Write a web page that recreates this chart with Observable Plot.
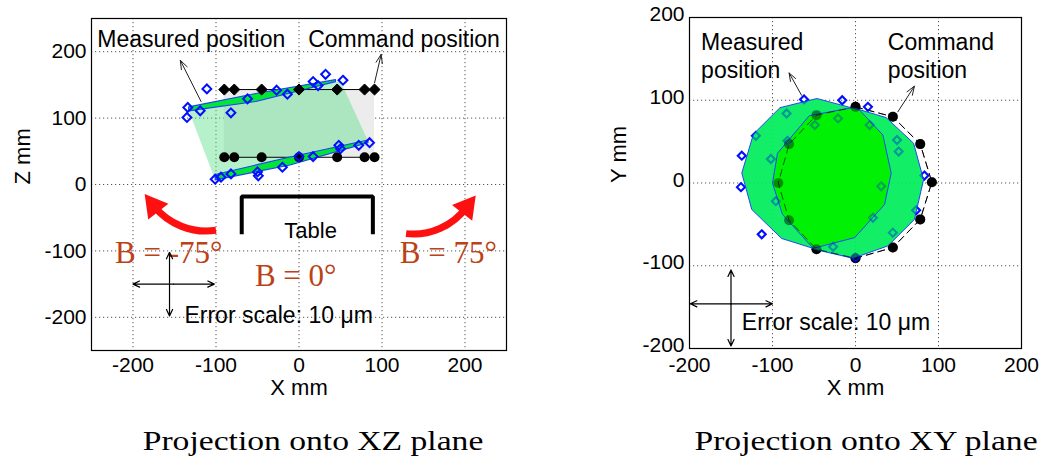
<!DOCTYPE html>
<html><head><meta charset="utf-8">
<script src="https://cdn.jsdelivr.net/npm/d3@7"></script>
<script src="https://cdn.jsdelivr.net/npm/@observablehq/plot@0.6"></script>
<style>
body{margin:0;background:#fff;}
#wrap{position:relative;width:1052px;height:466px;background:#fff;overflow:hidden;}
#left{position:absolute;left:0;top:0;}
#right{position:absolute;left:600px;top:0;}
.cap{position:absolute;top:425px;font-family:"Liberation Serif","Times New Roman",serif;font-size:28px;line-height:32px;color:#000;white-space:nowrap;transform:translateX(-50%) scaleX(1.2);}
</style></head><body>
<div id="wrap"><div id="left"></div><div id="right"></div>
<div class="cap" id="capL" style="left:313px"></div><div class="cap" id="capR" style="left:866px"></div></div>
<script>
// ---------------- shared ----------------
const axisTicks = [-200, -100, 0, 100, 200];
const captions = ["Projection onto XZ plane", "Projection onto XY plane"];

// ---------------- XZ projection (left) ----------------
const xzCmdX    = [-90, -78, -45, 0, 46, 79, 91];
const xzCmdTopZ = [143, 143, 143, 143, 143, 143, 143];
const xzCmdBotZ = [41, 41, 41, 41, 41, 41, 41];
const xzMeasTopX = [-134, -135, -119, -111, -82, -62, -27, -14, 17, 23, 32, 53];
const xzMeasTopZ = [116, 101, 111, 144, 108, 129, 142, 136, 155, 149, 166, 157];
const xzMeasBotX = [-101, -94, -82, -50, -49, -20, 0, 17, 48, 50, 72, 85];
const xzMeasBotZ = [8, 11, 16, 19, 13, 26, 42, 42, 59, 54, 59, 63];
const xzBandTop = [[-133,117],[-52,137],[44,158],[44,155],[-52,125],[-133,111]];
const xzBandBot = [[-101,15],[-12,41],[83,67],[83,63],[-12,29],[-101,7]];
const xzSwept   = [[-133,112],[50,156],[83,66],[-102,10]];
const xzLabels  = [{text:"Measured position", x:-243, z:218}, {text:"Command position", x:11, z:218}];
const xzPointers = [{x1:-118, z1:125, x2:-143, z2:187}, {x1:91, z1:153, x2:99, z2:196}];
const xzTable = [[-69,-75],[-69,-18],[89,-18],[89,-75]];
const xzTableLabel = [{text:"Table", x:14, z:-70}];
const xzAngleLabels = [{text:"B = -75°", x:-157, z:-103}, {text:"B = 0°", x:-4, z:-138}, {text:"B = 75°", x:180, z:-103}];
const xzRotLeft  = [{x1:-100, z1:-69, x2:-175, z2:-32}];
const xzRotRight = [{x1:129, z1:-74, x2:202, z2:-34}];
const xzScaleArrows = [{x1:-151, z1:-150, x2:-200, z2:-150}, {x1:-151, z1:-150, x2:-102, z2:-150},
                       {x1:-156, z1:-150, x2:-156, z2:-102}, {x1:-156, z1:-150, x2:-156, z2:-198}];
const xzScaleText = [{text:"Error scale: 10 μm", x:-138, z:-198}];

// ---------------- XY projection (right) ----------------
const xyCmdX = [0, 45, 78, 92, 78, 45, 0, -47, -80, -93, -80, -47];
const xyCmdY = [92, 80, 47, 1, -44, -78, -91, -80, -45, 0, 47, 82];
const xyMeasX = [-62, -16, 15, -137, -138, -113, 83, 73, 0, -83, -120, -102, -82, -49, -21, 17, 50, 52, 31, 21, 45, -27, -96];
const xyMeasY = [101, 100, 92, 33, -5, -62, 9, -33, -90, 84, 57, 29, 51, 70, 78, 70, 52, 38, -4, -42, -60, -77, -22];
const xyShapeA = [[-47,102],[-91,91],[-123,59],[-137,12],[-125,-32],[-89,-67],[-51,-79],[-1,-66],[35,-26],[43,12],[33,58],[5,88]];
const xyShapeB = [[-3,91],[37,79],[70,48],[82,4],[71,-44],[39,-76],[-3,-91],[-50,-80],[-88,-38],[-100,0],[-94,36],[-56,81]];
const xyLabels = [{text:"Measured", x:-186, y:170}, {text:"position", x:-186, y:136},
                  {text:"Command", x:39, y:170}, {text:"position", x:39, y:136}];
const xyPointers = [{x1:-65, y1:106, x2:-80, y2:133}, {x1:51, y1:86, x2:71, y2:117}];
const xyScaleArrows = [{x1:-150, y1:-146, x2:-199, y2:-146}, {x1:-150, y1:-146, x2:-100, y2:-146},
                       {x1:-150, y1:-146, x2:-150, y2:-105}, {x1:-150, y1:-146, x2:-150, y2:-197}];
const xyScaleText = [{text:"Error scale: 10 μm", x:-137, y:-169}];

// ---------------- rendering ----------------
const sans = "'Liberation Sans', Arial, sans-serif";
const serif = "'Liberation Serif', 'Times New Roman', serif";
const fmt = d => String(d);
const red = "#bc4216";
const arrowRed = "#ff1010";
const gridOpts = {stroke:"#555", strokeOpacity:1, strokeWidth:1, strokeDasharray:"1.2,2.8"};

const xzCmdTop = xzCmdX.map((x, i) => ({x, z: xzCmdTopZ[i]}));
const xzCmdBot = xzCmdX.map((x, i) => ({x, z: xzCmdBotZ[i]}));
const xzMeas = xzMeasTopX.map((x, i) => ({x, z: xzMeasTopZ[i]}))
  .concat(xzMeasBotX.map((x, i) => ({x, z: xzMeasBotZ[i]})));
const xzRect = [{x1: d3.min(xzCmdX), x2: d3.max(xzCmdX), z1: xzCmdBotZ[0], z2: xzCmdTopZ[0]}];
const rotOpts = {x1: "x1", y1: "z1", x2: "x2", y2: "z2", stroke: arrowRed, strokeWidth: 7, headLength: 0, strokeLinecap: "butt"};
const headOpts = {x: "x2", y: "z2", symbol: "triangle", r: 9.5, fill: arrowRed, stroke: "none"};

const left = Plot.plot({
  width: 530, height: 410, marginLeft: 91, marginRight: 24, marginTop: 18, marginBottom: 60,
  style: {fontFamily: sans, fontSize: "21px", background: "white", color: "black", overflow: "visible"},
  x: {domain: [-250, 250]}, y: {domain: [-250, 250]},
  marks: [
    Plot.gridX(axisTicks, gridOpts),
    Plot.gridY(axisTicks, gridOpts),
    Plot.axisX(axisTicks, {tickSize: 0, tickPadding: 7, tickFormat: fmt, label: null, fontSize: 21}),
    Plot.axisY(axisTicks, {tickSize: 0, tickPadding: 5, tickFormat: fmt, label: null, fontSize: 21}),
    Plot.rect(xzRect, {x1: "x1", x2: "x2", y1: "z1", y2: "z2", fill: "#ececec"}),
    Plot.line(xzSwept, {curve: "linear-closed", fill: "#5fe08f", fillOpacity: 0.45, stroke: "none"}),
    Plot.line(xzCmdTop, {x: "x", y: "z", stroke: "black", strokeWidth: 1}),
    Plot.line(xzCmdBot, {x: "x", y: "z", stroke: "black", strokeWidth: 1}),
    Plot.line(xzBandTop, {curve: "linear-closed", fill: "#00e632", stroke: "#2040ff", strokeWidth: 1.2}),
    Plot.line(xzBandBot, {curve: "linear-closed", fill: "#00e632", stroke: "#2040ff", strokeWidth: 1.2}),
    Plot.dot(xzCmdTop, {x: "x", y: "z", symbol: "diamond2", r: 5, fill: "black", stroke: "black", strokeWidth: 1}),
    Plot.dot(xzCmdBot, {x: "x", y: "z", symbol: "circle", r: 5, fill: "black", stroke: "none"}),
    Plot.dot(xzMeas, {x: "x", y: "z", symbol: "diamond2", r: 4, fill: "none", stroke: "#0010ff", strokeWidth: 2}),
    Plot.arrow(xzPointers, {x1: "x1", y1: "z1", x2: "x2", y2: "z2", stroke: "#222", strokeWidth: 1, headLength: 14, headAngle: 40}),
    Plot.text(xzLabels, {x: "x", y: "z", text: "text", textAnchor: "start", fontSize: 23, fontFamily: sans}),
    Plot.line(xzTable, {stroke: "black", strokeWidth: 4, strokeLinejoin: "miter", strokeLinecap: "butt"}),
    Plot.text(xzTableLabel, {x: "x", y: "z", text: "text", fontSize: 22, fontFamily: sans}),
    Plot.arrow(xzRotLeft, {...rotOpts, bend: 30}),
    Plot.arrow(xzRotRight, {...rotOpts, bend: -30}),
    Plot.dot(xzRotLeft, {...headOpts, rotate: -38}),
    Plot.dot(xzRotRight, {...headOpts, rotate: 38}),
    Plot.text(xzAngleLabels, {x: "x", y: "z", text: "text", fontSize: 31, fontFamily: serif, fill: red}),
    Plot.arrow(xzScaleArrows, {x1: "x1", y1: "z1", x2: "x2", y2: "z2", stroke: "black", strokeWidth: 1.2, headLength: 9, headAngle: 50}),
    Plot.text(xzScaleText, {x: "x", y: "z", text: "text", textAnchor: "start", fontSize: 23, fontFamily: sans}),
    Plot.text(["X mm"], {text: d => d, frameAnchor: "bottom", dy: 44, fontSize: 22, fontFamily: sans}),
    Plot.text(["Z mm"], {text: d => d, frameAnchor: "left", dx: -69, rotate: -90, fontSize: 22, fontFamily: sans}),
    Plot.frame({stroke: "black", strokeWidth: 1.2})
  ]
});
document.getElementById("left").appendChild(left);

const xyCmd = xyCmdX.map((x, i) => ({x, y: xyCmdY[i]}));
const xyMeas = xyMeasX.map((x, i) => ({x, y: xyMeasY[i]}));
const shapeFill = "#00ee5a";

const right = Plot.plot({
  width: 452, height: 410, marginLeft: 89, marginRight: 31, marginTop: 17, marginBottom: 62,
  style: {fontFamily: sans, fontSize: "21px", background: "white", color: "black", overflow: "visible"},
  x: {domain: [-200, 200]}, y: {domain: [-200, 200]},
  marks: [
    Plot.gridX(axisTicks, gridOpts),
    Plot.gridY(axisTicks, gridOpts),
    Plot.axisX(axisTicks, {tickSize: 0, tickPadding: 9, tickFormat: fmt, label: null, fontSize: 21}),
    Plot.axisY(axisTicks, {tickSize: 0, tickPadding: 5, dy: -3, tickFormat: fmt, label: null, fontSize: 21}),
    Plot.line(xyCmd, {x: "x", y: "y", curve: "linear-closed", stroke: "black", strokeWidth: 1, strokeDasharray: "7,5"}),
    Plot.dot(xyCmd, {x: "x", y: "y", r: 5, fill: "black", stroke: "none"}),
    Plot.dot(xyMeas, {x: "x", y: "y", symbol: "diamond2", r: 3.6, fill: "none", stroke: "#0010ff", strokeWidth: 2}),
    Plot.line(xyShapeA, {curve: "linear-closed", fill: shapeFill, fillOpacity: 0.93, stroke: "none", ariaDescription: "xy-fillA"}),
    Plot.line(xyShapeB, {curve: "linear-closed", fill: shapeFill, fillOpacity: 0.93, stroke: "none"}),
    Plot.line(xyShapeB, {curve: "linear-closed", fill: "#00f000", fillOpacity: 0.95, stroke: "none", ariaDescription: "xy-overlap"}),
    Plot.line(xyShapeA, {curve: "linear-closed", fill: "none", stroke: "#2244ff", strokeWidth: 1}),
    Plot.line(xyShapeB, {curve: "linear-closed", fill: "none", stroke: "#2244ff", strokeWidth: 1}),
    Plot.line(xyCmd, {x: "x", y: "y", curve: "linear-closed", stroke: "black", strokeWidth: 1, strokeDasharray: "7,5", strokeOpacity: 0.6}),
    Plot.dot(xyCmd, {x: "x", y: "y", r: 5, fill: "black", stroke: "none", fillOpacity: 0.4}),
    Plot.dot(xyMeas, {x: "x", y: "y", symbol: "diamond2", r: 3.6, fill: "none", stroke: "#0010ff", strokeWidth: 2, strokeOpacity: 0.35}),
    Plot.arrow(xyPointers, {x1: "x1", y1: "y1", x2: "x2", y2: "y2", stroke: "#222", strokeWidth: 1, headLength: 14, headAngle: 40}),
    Plot.text(xyLabels, {x: "x", y: "y", text: "text", textAnchor: "start", fontSize: 23, fontFamily: sans}),
    Plot.arrow(xyScaleArrows, {x1: "x1", y1: "y1", x2: "x2", y2: "y2", stroke: "black", strokeWidth: 1.2, headLength: 9, headAngle: 50}),
    Plot.text(xyScaleText, {x: "x", y: "y", text: "text", textAnchor: "start", fontSize: 23, fontFamily: sans}),
    Plot.text(["X mm"], {text: d => d, frameAnchor: "bottom", dy: 46, fontSize: 22, fontFamily: sans}),
    Plot.text(["Y mm"], {text: d => d, frameAnchor: "left", dx: -71, rotate: -90, fontSize: 22, fontFamily: sans}),
    Plot.frame({stroke: "black", strokeWidth: 1.2})
  ]
});
document.getElementById("right").appendChild(right);

// clip the overlap fill to shape A so the intersection shows the saturated green
const svgR = d3.select(right);
const aPath = svgR.select('[aria-description="xy-fillA"] path');
if (!aPath.empty()) {
  const defs = svgR.insert("defs", ":first-child");
  const cp = defs.append("clipPath").attr("id", "clipShapeA").append("path").attr("d", aPath.attr("d"));
  if (aPath.attr("transform")) cp.attr("transform", aPath.attr("transform"));
  svgR.select('[aria-description="xy-overlap"]').attr("clip-path", "url(#clipShapeA)");
}
document.getElementById("capL").textContent = captions[0];
document.getElementById("capR").textContent = captions[1];
</script></body></html>
